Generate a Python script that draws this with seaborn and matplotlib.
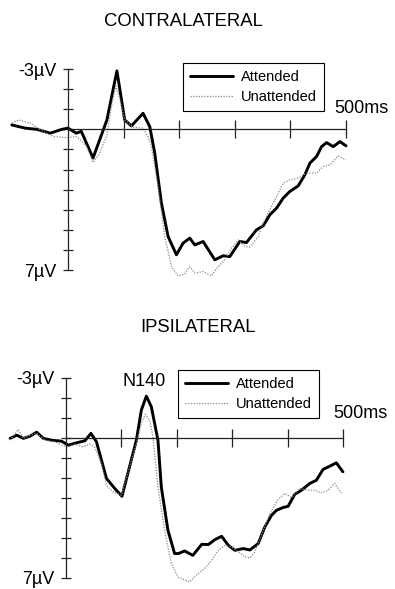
import matplotlib
matplotlib.use("Agg")
import matplotlib.pyplot as plt
import seaborn as sns
import pandas as pd

# ---------------- data (time in ms, amplitude in microvolts) ----------------
contra_att_t = [-101, -77, -56, -32, -11, 0, 15, 24, 45, 57, 70, 88, 102, 114, 135, 147,
                156, 168, 180, 195, 207, 219, 228, 243, 264, 279, 291, 309, 321, 339, 351,
                363, 375, 387, 399, 414, 426, 435, 447, 456, 465, 477, 489, 500]
contra_att_v = [-0.22, -0.06, 0.0, 0.19, 0.0, -0.06, 0.19, 0.10, 1.43, 0.52, -0.47, -2.91,
                -0.47, -0.17, -0.80, -0.14, 1.18, 3.67, 5.33, 6.24, 5.66, 5.41, 5.75, 5.58,
                6.49, 6.29, 6.33, 5.58, 5.63, 5.00, 4.80, 4.25, 3.92, 3.42, 3.09, 2.81, 2.26,
                1.68, 1.35, 0.86, 0.66, 0.86, 0.61, 0.82]

contra_un_t = [-101, -89, -68, -44, -26, -2, 16, 34, 45, 57, 70, 78, 86, 93, 102, 117, 135,
               144, 150, 162, 174, 186, 198, 210, 219, 228, 243, 258, 270, 282, 294, 306,
               318, 327, 342, 351, 363, 375, 387, 399, 414, 429, 447, 459, 471, 486, 500]
contra_un_v = [-0.31, -0.47, -0.31, 0.11, 0.36, 0.41, 0.36, 0.86, 1.65, 1.18, 0.27, -1.13,
               -2.16, -1.55, -0.47, -0.11, -0.06, 0.36, 0.86, 2.85, 5.33, 6.83, 7.29, 7.19,
               6.83, 7.15, 7.07, 7.29, 6.83, 6.49, 5.91, 5.50, 5.83, 5.86, 5.33, 4.67, 4.00,
               3.34, 2.68, 2.51, 2.43, 2.18, 2.18, 1.85, 1.77, 1.32, 1.52]

ipsi_att_t = [-101, -89, -77, -65, -53, -41, -26, -8, 4, 19, 34, 45, 55, 64, 73, 88, 101,
              127, 136, 145, 154, 166, 172, 184, 196, 203, 214, 229, 245, 257, 269, 281,
              293, 305, 320, 332, 347, 359, 371, 380, 392, 401, 413, 425, 440, 452, 464,
              476, 488, 500]
ipsi_att_v = [0.03, -0.13, 0.03, -0.08, -0.28, 0.03, 0.12, 0.17, 0.37, 0.25, 0.15, -0.22,
              0.20, 1.12, 2.03, 2.53, 2.92, 0.12, -1.38, -2.08, -1.55, 0.12, 2.45, 4.62,
              5.78, 5.78, 5.65, 5.87, 5.32, 5.33, 5.08, 4.92, 5.37, 5.62, 5.53, 5.60, 5.28,
              4.45, 3.87, 3.62, 3.48, 3.42, 2.82, 2.62, 2.28, 2.12, 1.58, 1.42, 1.25, 1.70]

ipsi_un_t = [-101, -86, -77, -65, -53, -38, -20, 1, 16, 31, 43, 52, 64, 73, 85, 100, 127,
             136, 143, 151, 157, 166, 178, 190, 202, 223, 235, 250, 263, 275, 287, 299,
             314, 323, 332, 341, 353, 368, 383, 395, 407, 422, 437, 449, 461, 473, 485, 497]
ipsi_un_v = [0.12, -0.42, 0.03, -0.13, -0.22, 0.12, 0.20, 0.48, 0.32, 0.45, 0.32, 0.48,
             1.28, 2.37, 2.70, 2.87, 0.28, -0.72, -1.17, -0.88, -0.05, 2.45, 4.62, 6.28,
             6.95, 7.20, 6.87, 6.53, 6.12, 5.62, 5.37, 5.45, 5.75, 5.95, 6.00, 5.70, 4.87,
             3.78, 3.08, 2.78, 2.98, 2.53, 2.62, 2.62, 2.75, 2.62, 2.28, 2.75]

conditions = ["Attended", "Unattended"]
panel_titles = ["CONTRALATERAL", "IPSILATERAL"]
x_ticks = [100, 200, 300, 400, 500]
y_ticks = list(range(-3, 8))
y_ticklabels = ["-3\u00b5V"] + [""] * 9 + ["7\u00b5V"]
time_label = "500ms"
peak_label = "N140"


def make_df(att_t, att_v, un_t, un_v):
    a = pd.DataFrame({"time": att_t, "amp": att_v, "cond": conditions[0]})
    u = pd.DataFrame({"time": un_t, "amp": un_v, "cond": conditions[1]})
    return pd.concat([a, u], ignore_index=True)


dfs = [make_df(contra_att_t, contra_att_v, contra_un_t, contra_un_v),
       make_df(ipsi_att_t, ipsi_att_v, ipsi_un_t, ipsi_un_v)]

# ---------------- style ----------------
sns.set_style("white")
plt.rcParams["font.family"] = ["Liberation Sans", "DejaVu Sans"]
plt.rcParams["text.color"] = "black"
plt.rcParams["xtick.color"] = "black"
plt.rcParams["ytick.color"] = "black"
plt.rcParams["axes.labelcolor"] = "black"

W, H = 395, 589
fig = plt.figure(figsize=(W / 100, H / 100), dpi=100)

# axes rectangles in pixels: (left, top, right, bottom)
rects = [(6.8, 59.0, 351.6, 280.1), (5.1, 367.7, 348.5, 588.0)]
legend_anchor = [(183, 63), (178, 370)]
title_pos = [(183.3, 21.7), (198.0, 327.7)]
ms_pos = [(527, -1.02), (532, -1.21)]

palette = {"Attended": "black", "Unattended": "#8a8a8a"}
sizes = {"Attended": 2.1, "Unattended": 0.9}
dashes = {"Attended": "", "Unattended": (1, 1.2)}

for i, df in enumerate(dfs):
    l, t, r, b = rects[i]
    ax = fig.add_axes([l / W, 1 - b / H, (r - l) / W, (b - t) / H])
    sns.lineplot(data=df, x="time", y="amp", hue="cond", size="cond", style="cond",
                 palette=palette, sizes=sizes, dashes=dashes, estimator=None,
                 ax=ax, legend=True)
    ax.set_xlim(-110, 510)
    ax.set_ylim(7.5, -3.5)
    ax.set_xlabel("")
    ax.set_ylabel("")
    ax.patch.set_alpha(0)
    for s in ["top", "right"]:
        ax.spines[s].set_visible(False)
    ax.spines["left"].set_position(("data", 0))
    ax.spines["left"].set_bounds(-3, 7)
    ax.spines["bottom"].set_position(("data", 0))
    ax.spines["bottom"].set_bounds(0, 500)
    for s in ["left", "bottom"]:
        ax.spines[s].set_color("#222222")
        ax.spines[s].set_linewidth(0.9)
    ax.set_xticks(x_ticks)
    ax.set_xticklabels([""] * len(x_ticks))
    ax.set_yticks(y_ticks)
    ax.set_yticklabels(y_ticklabels)
    ax.tick_params(axis="x", bottom=True, direction="inout", length=12.5, width=0.9,
                   color="#222222")
    ax.tick_params(axis="y", left=True, direction="inout", length=7, width=0.9,
                   color="#222222", labelsize=13, labelcolor="black", pad=5.0)
    ax.set_zorder(1)

    ax.text(ms_pos[i][0], ms_pos[i][1], time_label, fontsize=13, ha="center",
            va="center", color="black")
    if i == 1:
        ax.text(141, -2.83, peak_label, fontsize=13, ha="center", va="center",
                color="black")

    handles, labels = ax.get_legend_handles_labels()
    ax.get_legend().remove()
    leg = ax.legend(handles, labels, loc="upper left",
                    bbox_to_anchor=(legend_anchor[i][0] / W, 1 - legend_anchor[i][1] / H),
                    bbox_transform=fig.transFigure, borderaxespad=0, fontsize=10.5,
                    frameon=True, fancybox=False, edgecolor="black", framealpha=1,
                    handlelength=2.9, handletextpad=0.55, labelspacing=0.4,
                    borderpad=0.5, labelcolor="black")
    leg.get_frame().set_linewidth(0.8)

    fig.text(title_pos[i][0] / W, 1 - title_pos[i][1] / H, panel_titles[i],
             fontsize=13.3, ha="center", va="center", color="black")

fig.savefig("out.png", dpi=100)
